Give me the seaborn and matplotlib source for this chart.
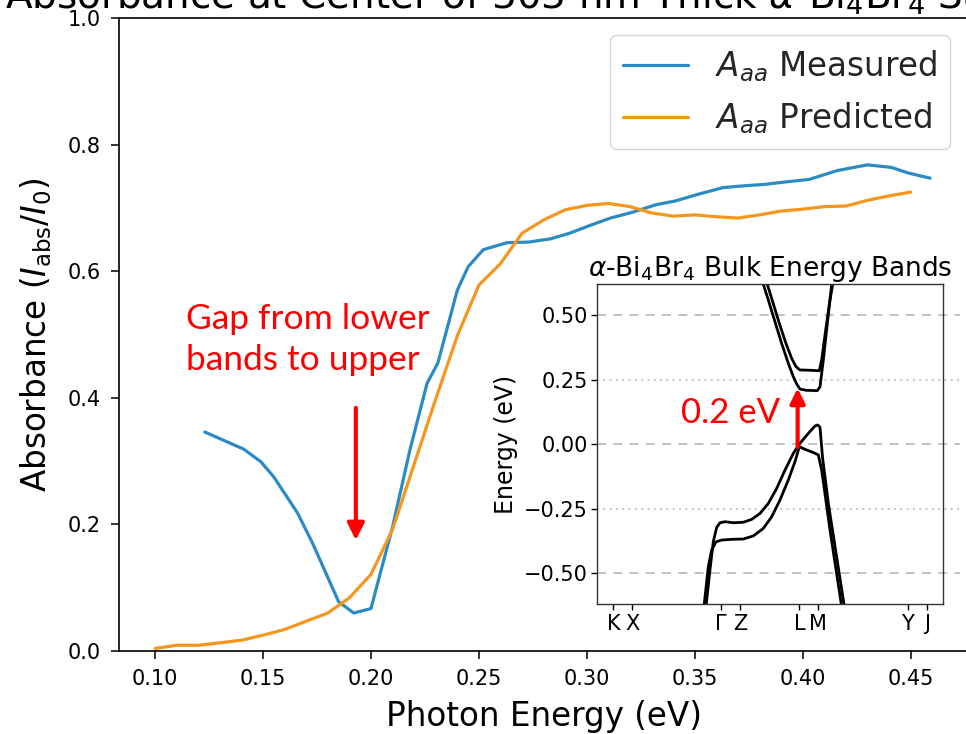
import matplotlib
matplotlib.use("Agg")
import matplotlib.pyplot as plt
import numpy as np
import pandas as pd
import seaborn as sns

# ---------------- data ----------------
measured_energy = [0.123, 0.141, 0.149, 0.155, 0.166, 0.173, 0.185, 0.192, 0.200, 0.210,
                   0.218, 0.226, 0.231, 0.240, 0.245, 0.252, 0.263, 0.273, 0.283, 0.292,
                   0.302, 0.311, 0.321, 0.332, 0.341, 0.352, 0.363, 0.373, 0.382, 0.392,
                   0.403, 0.416, 0.430, 0.441, 0.449, 0.459]
measured_abs = [0.346, 0.319, 0.299, 0.275, 0.218, 0.170, 0.078, 0.060, 0.067, 0.196,
                0.317, 0.423, 0.455, 0.570, 0.607, 0.634, 0.645, 0.646, 0.651, 0.660,
                0.673, 0.684, 0.693, 0.705, 0.711, 0.722, 0.732, 0.735, 0.737, 0.741,
                0.745, 0.759, 0.768, 0.764, 0.755, 0.747]

predicted_energy = [0.10, 0.11, 0.12, 0.13, 0.14, 0.15, 0.16, 0.17, 0.18, 0.19,
                    0.20, 0.21, 0.22, 0.23, 0.24, 0.25, 0.26, 0.27, 0.28, 0.29,
                    0.30, 0.31, 0.32, 0.33, 0.34, 0.35, 0.36, 0.37, 0.38, 0.39,
                    0.40, 0.41, 0.42, 0.43, 0.44, 0.45]
predicted_abs = [0.004, 0.009, 0.009, 0.013, 0.017, 0.025, 0.034, 0.047, 0.060, 0.084,
                 0.121, 0.192, 0.295, 0.398, 0.498, 0.578, 0.612, 0.660, 0.681, 0.697,
                 0.704, 0.707, 0.702, 0.692, 0.687, 0.689, 0.686, 0.684, 0.689, 0.695,
                 0.698, 0.702, 0.703, 0.712, 0.719, 0.725]

series_labels = [r"$A_{aa}$ Measured", r"$A_{aa}$ Predicted"]
x_ticks = [0.10, 0.15, 0.20, 0.25, 0.30, 0.35, 0.40, 0.45]
y_ticks = [0.0, 0.2, 0.4, 0.6, 0.8, 1.0]

# band structure (inset): k-path coordinate (0..1) and energy (eV)
vb_upper_k = [0.3147, 0.3262, 0.3359, 0.3456, 0.3552, 0.3697, 0.3938, 0.4228, 0.4469, 0.4710,
              0.4952, 0.5193, 0.5434, 0.5676, 0.585, 0.6111, 0.6303, 0.6380, 0.6448, 0.6520,
              0.6690, 0.7153]
vb_upper_E = [-0.629, -0.487, -0.377, -0.322, -0.304, -0.300, -0.304, -0.302, -0.291, -0.268,
              -0.229, -0.171, -0.100, -0.035, 0.001, 0.0425, 0.071, 0.075, 0.066, -0.050,
              -0.230, -0.629]
vb_lower_k = [0.3088, 0.3214, 0.3311, 0.3436, 0.3600, 0.3938, 0.4228, 0.4517, 0.4807, 0.5048,
              0.5289, 0.5531, 0.5724, 0.585, 0.6014, 0.6255, 0.6399, 0.6496, 0.6737, 0.7075]
vb_lower_E = [-0.629, -0.474, -0.410, -0.378, -0.371, -0.368, -0.367, -0.355, -0.326, -0.281,
              -0.216, -0.138, -0.067, -0.009, -0.0195, -0.032, -0.041, -0.100, -0.332, -0.629]
cb_lower_k = [0.4806, 0.4951, 0.5144, 0.5337, 0.5530, 0.5675, 0.5772, 0.5868, 0.6062, 0.6370,
              0.6448, 0.6544, 0.6660, 0.6757, 0.6785]
cb_lower_E = [0.620, 0.559, 0.475, 0.391, 0.314, 0.262, 0.234, 0.214, 0.209, 0.208,
              0.223, 0.327, 0.469, 0.585, 0.620]
cb_upper_k = [0.4922, 0.5076, 0.5269, 0.5462, 0.5627, 0.5752, 0.5868, 0.6158, 0.6428, 0.6496,
              0.6612, 0.6737, 0.6815]
cb_upper_E = [0.620, 0.553, 0.469, 0.391, 0.333, 0.301, 0.288, 0.287, 0.285, 0.327,
              0.443, 0.559, 0.620]

kpath_ticks = [0.0464, 0.1014, 0.358, 0.413, 0.585, 0.640, 0.8985, 0.9536]
kpath_labels = ["K", "X", "Γ", "Z", "L", "M", "Y", "J"]
inset_y_ticks = [-0.50, -0.25, 0.00, 0.25, 0.50]
gap_bottom, gap_top, gap_k = -0.01, 0.217, 0.580

# ---------------- style ----------------
sns.set_theme(style="ticks")
plt.rcParams["font.family"] = ["DejaVu Sans"]
plt.rcParams["mathtext.fontset"] = "dejavusans"

BLUE = "#2b8cc4"
ORANGE = "#f5961f"

fig = plt.figure(figsize=(9.66, 7.34), dpi=100)
ax = fig.add_axes([119 / 966, 1 - 651 / 734, 850 / 966, 633 / 734])

df = pd.concat([
    pd.DataFrame({"E": measured_energy, "A": measured_abs, "s": series_labels[0]}),
    pd.DataFrame({"E": predicted_energy, "A": predicted_abs, "s": series_labels[1]}),
])
sns.lineplot(data=df, x="E", y="A", hue="s", palette=[BLUE, ORANGE],
             linewidth=2.3, ax=ax, estimator=None, sort=False)

ax.set_xlim(0.0833, 0.477)
ax.set_ylim(0, 1.0)
ax.set_xticks(x_ticks)
ax.set_xticklabels([f"{v:.2f}" for v in x_ticks])
ax.set_yticks(y_ticks)
ax.set_yticklabels([f"{v:.1f}" for v in y_ticks])
ax.tick_params(axis="both", labelsize=15, length=6, width=1.1, pad=7, color="black",
               labelcolor="black")
for sp in ax.spines.values():
    sp.set_color("black")
    sp.set_linewidth(1.2)
ax.set_xlabel("Photon Energy (eV)", fontsize=23.5, labelpad=8, color="black")
ax.set_ylabel(r"Absorbance ($I_{\mathrm{abs}}/I_0$)", fontsize=23.5, labelpad=10, color="black")
ax.set_title(r"Absorbance at Center of 303 nm Thick $\alpha$-Bi$_4$Br$_4$ Sample",
             fontsize=28, pad=7, color="black")

leg = ax.legend(loc="upper right", bbox_to_anchor=(950 / 966, 1 - 35 / 734),
                bbox_transform=fig.transFigure, borderaxespad=0, fontsize=23.5,
                frameon=True, title=None)
for line in leg.get_lines():
    line.set_linewidth(2.3)

# red annotation (main axes)
ax.annotate("", xy=(0.193, 0.175), xytext=(0.193, 0.384),
            arrowprops=dict(arrowstyle="-|>", color="red", lw=3, mutation_scale=25,
                            shrinkA=0, shrinkB=0))
ax.text(0.1144, 0.550, "Gap from lower\nbands to upper", color="red",
        fontsize=25.5, family="Lato", ha="left", va="top", linespacing=1.35)

# ---------------- inset ----------------
ins = fig.add_axes([597.3 / 966, 1 - 604.3 / 734, 345.4 / 966, 320 / 734])
ins.set_facecolor("white")
for yv in inset_y_ticks:
    ls = (0, (5, 4)) if abs(yv) in (0.0, 0.5) else (0, (1, 2.5))
    ins.axhline(yv, xmin=0, xmax=1.05, color="#bdbdbd", lw=1.3, ls=ls, clip_on=False, zorder=0)

for kk, ee in [(vb_upper_k, vb_upper_E), (vb_lower_k, vb_lower_E),
               (cb_lower_k, cb_lower_E), (cb_upper_k, cb_upper_E)]:
    sns.lineplot(x=kk, y=ee, sort=False, estimator=None, color="black", lw=2.0, ax=ins)

ins.set_xlim(0, 1)
ins.set_ylim(-0.62, 0.62)
ins.set_xticks(kpath_ticks)
ins.set_xticklabels(kpath_labels)
ins.set_yticks(inset_y_ticks)
ins.set_yticklabels([f"{v:.2f}".replace("-", "\u2212") for v in inset_y_ticks])
ins.tick_params(axis="both", labelsize=15, length=4, width=1.0, pad=3, color="black",
                labelcolor="black")
for sp in ins.spines.values():
    sp.set_color("#333333")
    sp.set_linewidth(1.0)
ins.set_ylabel("Energy (eV)", fontsize=17, labelpad=4, color="black")
ins.set_title(r"$\alpha$-Bi$_4$Br$_4$ Bulk Energy Bands", fontsize=19, pad=6, color="black")

ins.annotate("", xy=(gap_k, gap_top), xytext=(gap_k, gap_bottom),
             arrowprops=dict(arrowstyle="-|>", color="red", lw=3, mutation_scale=22,
                             shrinkA=0, shrinkB=0))
ins.text(0.529, 0.12, "0.2 eV", color="red", fontsize=25, family="Lato",
         ha="right", va="center")

fig.savefig("out.png", dpi=100)
